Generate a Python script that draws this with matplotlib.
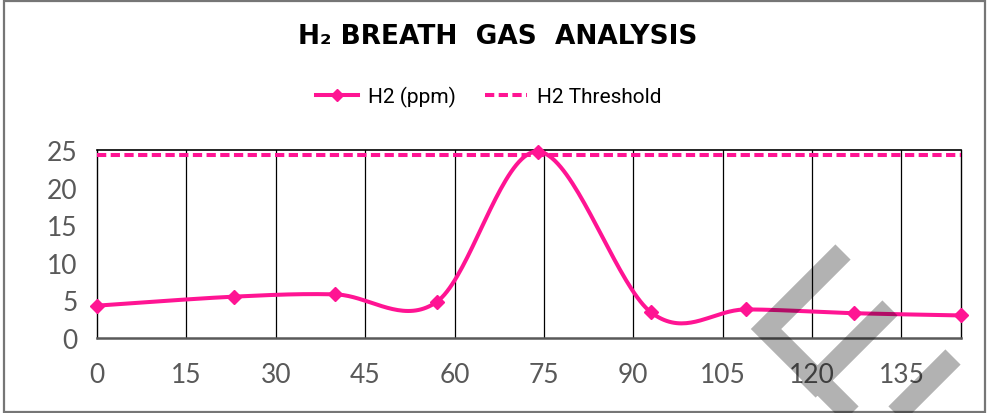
import numpy as np
import matplotlib
matplotlib.use("Agg")
import matplotlib.pyplot as plt
from matplotlib.lines import Line2D
from matplotlib.patches import Rectangle

# ---- data ----
time_min = [0, 23, 40, 57, 74, 93, 109, 127, 145]
h2_ppm = [4.3, 5.5, 5.8, 4.8, 24.8, 3.4, 3.8, 3.3, 3.0]
threshold = [24.4] * len(time_min)
x_ticks = [0, 15, 30, 45, 60, 75, 90, 105, 120, 135]
y_ticks = [0, 5, 10, 15, 20, 25]
title_text = "H\u2082 BREATH  GAS  ANALYSIS"
series_names = ["H2 (ppm)", "H2 Threshold"]

PINK = "#FF1493"
GRAY_TXT = "#595959"
W, H = 992, 414


def smooth(xs, ys, n=40):
    pts = np.column_stack([xs, ys]).astype(float)
    P = np.vstack([pts[0], pts, pts[-1]])
    out = []
    for i in range(1, len(P) - 2):
        p0, p1, p2, p3 = P[i - 1], P[i], P[i + 1], P[i + 2]
        c1 = p1 + (p2 - p0) / 6.0
        c2 = p2 - (p3 - p1) / 6.0
        t = np.linspace(0, 1, n)[:, None]
        seg = ((1 - t) ** 3) * p1 + 3 * ((1 - t) ** 2) * t * c1 + 3 * (1 - t) * t ** 2 * c2 + t ** 3 * p2
        out.append(seg if i == 1 else seg[1:])
    s = np.vstack(out)
    return s[:, 0], s[:, 1]


fig = plt.figure(figsize=(W / 100, H / 100), dpi=100)
fig.patch.set_facecolor("white")

# outer border
fig.add_artist(Rectangle((4 / W, 1 - 413 / H), (985 - 4) / W, (413 - 1.5) / H,
                         transform=fig.transFigure, fill=False, edgecolor="#767676", lw=1.6))

ax = fig.add_axes([97 / W, 1 - 339 / H, (961 - 97) / W, (339 - 151) / H])
ax.set_xlim(0, 145)
ax.set_ylim(0, 25)

for xv in x_ticks[1:]:
    ax.axvline(xv, color="black", lw=0.9, zorder=1)
ax.axhline(25, color="black", lw=1.2, zorder=1, clip_on=False)

for side in ["left", "right"]:
    ax.spines[side].set_color("black")
    ax.spines[side].set_linewidth(1.0)
ax.spines["top"].set_visible(False)
ax.spines["bottom"].set_color(GRAY_TXT)
ax.spines["bottom"].set_linewidth(1.8)

ax.set_xticks(x_ticks)
ax.set_yticks(y_ticks)
ax.tick_params(axis="both", length=0, labelcolor=GRAY_TXT, labelsize=19)
ax.tick_params(axis="x", pad=17)
ax.tick_params(axis="y", pad=14)
for lab in ax.get_xticklabels() + ax.get_yticklabels():
    lab.set_family("Lato")

sx, sy = smooth(time_min, h2_ppm)
ax.plot(sx, sy, color=PINK, lw=2.9, zorder=3, clip_on=False, solid_capstyle="round")
ax.plot(time_min, h2_ppm, linestyle="none", marker="D", ms=7, color=PINK, zorder=4, clip_on=False)
ax.plot(time_min, threshold, color=PINK, lw=2.9, dashes=(2.3, 1.1), zorder=3)

# legend
h1 = Line2D([], [], color=PINK, lw=2.9, marker="D", ms=6)
h2 = Line2D([], [], color=PINK, lw=2.9, dashes=(2.3, 1.1))
fig.legend([h1, h2], series_names, loc="center", bbox_to_anchor=(489 / W, 1 - 97 / H),
           ncol=2, frameon=False, handlelength=2.0, handletextpad=0.5, columnspacing=1.4,
           prop={"family": ["Roboto", "DejaVu Sans"], "size": 15})

fig.text(498 / W, 1 - 37 / H, title_text, ha="center", va="center", fontsize=19,
         fontweight="bold", family=["DejaVu Sans"], color="black")

# watermark strokes (pixel coordinates)
def px(x, y):
    return x / W, 1 - y / H

pts = [(843, 253), (766, 330), (900, 464), (np.nan, np.nan),
       (890, 309), (808, 391), (np.nan, np.nan),
       (953, 358), (865, 446)]
wx = [px(a, b)[0] if not np.isnan(a) else np.nan for a, b in pts]
wy = [px(a, b)[1] if not np.isnan(b) else np.nan for a, b in pts]
fig.add_artist(Line2D(wx, wy, transform=fig.transFigure, color="black", alpha=0.3,
                      lw=15.5, solid_joinstyle="miter", solid_capstyle="butt", zorder=10))

fig.savefig("out.png", dpi=100, facecolor="white")
